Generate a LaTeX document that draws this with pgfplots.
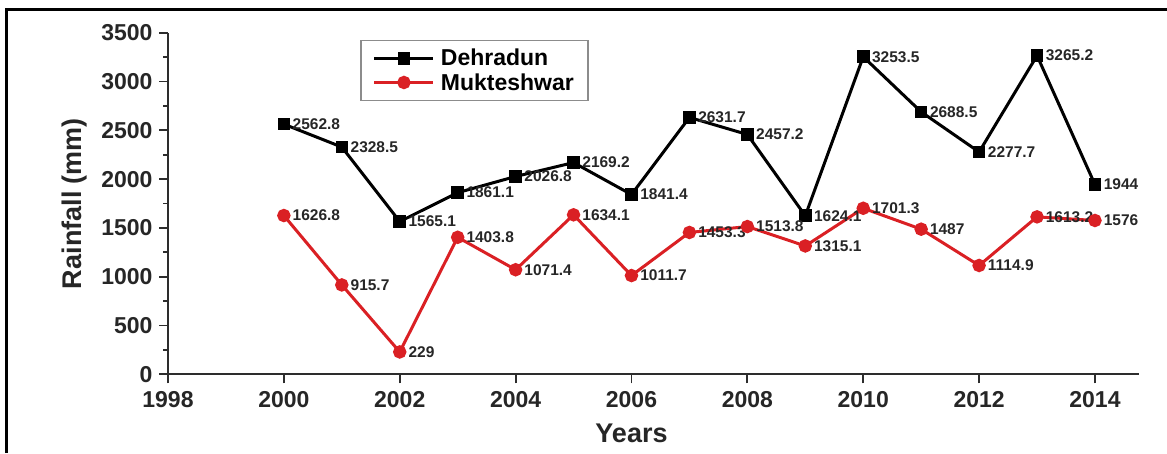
\documentclass[border=0pt]{standalone}
\usepackage{fontspec}
\setmainfont{Liberation Sans}
\usepackage{pgfplots}
\usepackage{pgfplotstable}
\pgfplotsset{compat=1.18}
\definecolor{mred}{RGB}{218,32,36}
\definecolor{axgray}{RGB}{45,45,45}

\pgfplotstableread{
year val lab
2000 2562.8 2562.8
2001 2328.5 2328.5
2002 1565.1 1565.1
2003 1861.1 1861.1
2004 2026.8 2026.8
2005 2169.2 2169.2
2006 1841.4 1841.4
2007 2631.7 2631.7
2008 2457.2 2457.2
2009 1624.1 1624.1
2010 3253.5 3253.5
2011 2688.5 2688.5
2012 2277.7 2277.7
2013 3265.2 3265.2
2014 1944 1944
}\dehra

\pgfplotstableread{
year val lab
2000 1626.8 1626.8
2001 915.7 915.7
2002 229 229
2003 1403.8 1403.8
2004 1071.4 1071.4
2005 1634.1 1634.1
2006 1011.7 1011.7
2007 1453.3 1453.3
2008 1513.8 1513.8
2009 1315.1 1315.1
2010 1701.3 1701.3
2011 1487 1487
2012 1114.9 1114.9
2013 1613.2 1613.2
2014 1576 1576
}\mukt

\begin{document}
\begin{tikzpicture}
\path[use as bounding box] (-168pt,-78.7pt) rectangle (999pt,374.3pt);
\begin{axis}[
  scale only axis,
  width=971pt, height=341.6pt,
  xmin=1998, xmax=2014.76,
  ymin=0, ymax=3500,
  axis lines=left,
  axis line style={-, line width=1.8pt, color=axgray},
  xtick={1998,2000,...,2014},
  ytick={0,500,...,3500},
  minor x tick num=1,
  minor y tick num=1,
  tick align=outside,
  major tick length=9pt,
  minor tick length=5pt,
  tick style={line width=1.8pt, color=axgray},
  /pgf/number format/1000 sep={},
  /pgf/number format/assume math mode=true,
  tick label style={font=\bfseries\fontsize{23}{23}\selectfont, text=black!85},
  yticklabel style={xshift=-3pt},
  xticklabel style={yshift=-5pt},
  xlabel={Years},
  ylabel={Rainfall (mm)},
  every axis x label/.style={at={(rel axis cs:0.5,0)}, anchor=base, yshift=-67.7pt, xshift=-22pt, font=\bfseries\fontsize{27}{27}\selectfont, text=black!85},
  every axis y label/.style={at={(rel axis cs:0,0.5)}, xshift=-93pt, rotate=90, anchor=center, font=\bfseries\fontsize{27}{27}\selectfont, text=black!85},
  clip=false,
  legend image code/.code={\pgfsetlinewidth{3pt}\draw[#1, line width=3pt] (0pt,0pt) -- (59pt,0pt); \path[#1] plot[mark repeat=1] coordinates {(29.5pt,0pt)}; \path (63pt,0pt);},
  legend style={at={(rel axis cs:0.198,0.98)}, anchor=north west, draw=black!45, line width=1.4pt,
    font=\bfseries\fontsize{23}{24}\selectfont, cells={anchor=west}, inner xsep=12pt, inner ysep=7pt, row sep=2pt},
  nodes near coords,
  point meta=explicit symbolic,
  every node near coord/.style={anchor=west, xshift=4pt, font=\bfseries\fontsize{15.5}{16}\selectfont, text=black!85},
]
\addplot[black, line width=3pt, mark=square*, mark size=4.8pt, mark options={solid}] table[x=year, y=val, meta=lab] {\dehra};
\addlegendentry{Dehradun}
\addplot[mred, line width=3pt, mark=*, mark size=5.2pt, mark options={solid, fill=mred}] table[x=year, y=val, meta=lab] {\mukt};
\addlegendentry{Mukteshwar}
\end{axis}
\draw[line width=3pt, black] (-161pt,-78.7pt) -- (-161pt,364.3pt) -- (999pt,364.3pt);
\end{tikzpicture}
\end{document}
